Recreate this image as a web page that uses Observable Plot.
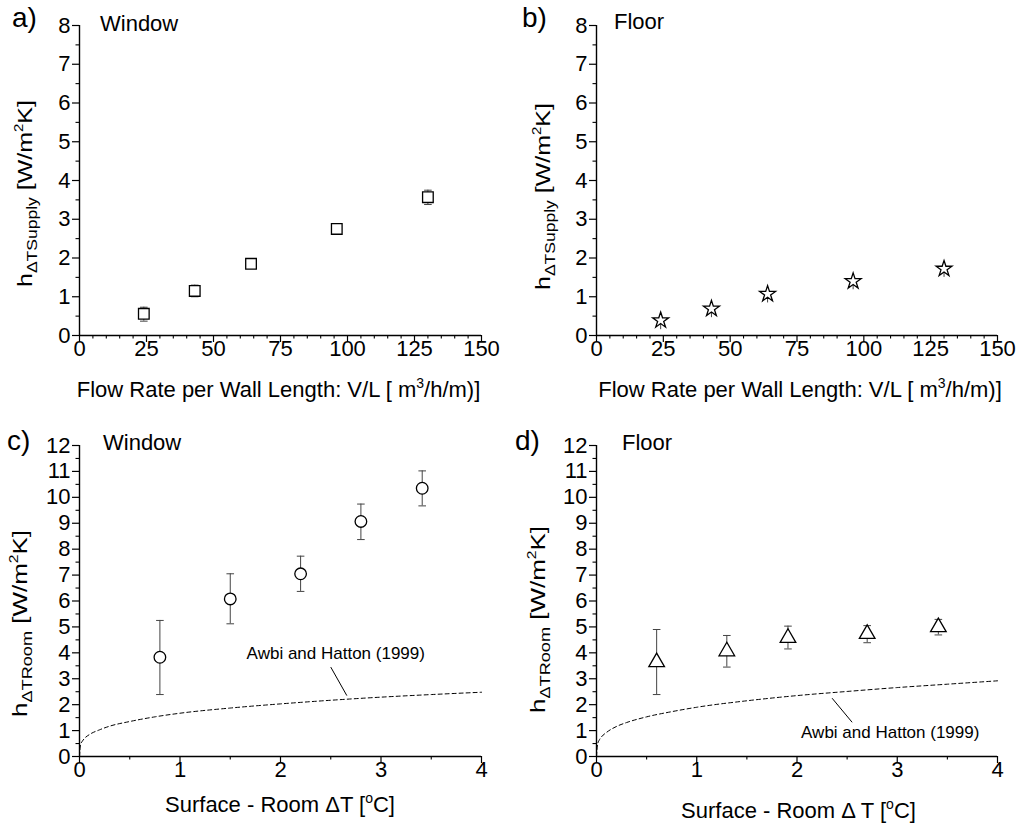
<!DOCTYPE html>
<html>
<head>
<meta charset="utf-8">
<script src="https://cdn.jsdelivr.net/npm/d3@7"></script>
<script src="https://cdn.jsdelivr.net/npm/@observablehq/plot@0.6"></script>
<style>
  html, body { margin: 0; padding: 0; background: white; }
  #wrap { position: relative; width: 1019px; height: 830px; overflow: hidden; background: white; }
  .pane { position: absolute; }
</style>
</head>
<body>
<div id="wrap">
  <div class="pane" id="pa" style="left:0px;top:0px"></div>
  <div class="pane" id="pb" style="left:510px;top:0px"></div>
  <div class="pane" id="pc" style="left:0px;top:420px"></div>
  <div class="pane" id="pd" style="left:510px;top:420px"></div>
</div>
<script>
// ---------- data ----------
// a) Window, supply-based coefficient vs flow rate
const windowFlow = [24, 43, 64, 96, 130];
const windowSupplyH = [0.56, 1.15, 1.85, 2.75, 3.57];
const windowSupplyLo = [0.37, 1.0, 1.75, 2.61, 3.38];
const windowSupplyHi = [0.73, 1.3, 1.95, 2.88, 3.75];

// b) Floor, supply-based coefficient vs flow rate
const floorFlow = [24, 43, 64, 96, 130];
const floorSupplyH = [0.39, 0.69, 1.07, 1.40, 1.72];
const floorSupplyLo = [0.15, 0.46, 0.84, 1.18, 1.50];
const floorSupplyHi = [0.55, 0.85, 1.23, 1.56, 1.88];

// c) Window, room-based coefficient vs surface-room dT
const windowDT = [0.8, 1.5, 2.2, 2.8, 3.41];
const windowRoomH = [3.83, 6.08, 7.05, 9.07, 10.35];
const windowRoomLo = [2.39, 5.12, 6.37, 8.37, 9.67];
const windowRoomHi = [5.25, 7.05, 7.73, 9.74, 11.02];

// d) Floor, room-based coefficient vs surface-room dT
const floorDT = [0.6, 1.3, 1.91, 2.7, 3.41];
const floorRoomH = [3.64, 4.06, 4.58, 4.73, 4.99];
const floorRoomLo = [2.39, 3.45, 4.15, 4.39, 4.69];
const floorRoomHi = [4.9, 4.67, 5.03, 5.05, 5.29];

// Awbi and Hatton (1999) dashed curves
const awbiDT = [0, 0.01, 0.03, 0.05, 0.1, 0.2, 0.3, 0.5, 0.75, 1, 1.5, 2, 2.5, 3, 3.5, 4];
const awbiWindowH = [0, 0.45, 0.6, 0.7, 0.85, 1.03, 1.17, 1.35, 1.53, 1.67, 1.87, 2.03, 2.17, 2.29, 2.39, 2.48];
const awbiFloorH = [0, 0.46, 0.65, 0.76, 0.93, 1.16, 1.31, 1.53, 1.73, 1.9, 2.15, 2.35, 2.51, 2.66, 2.79, 2.92];

// annotation label + leader (data coordinates)
const awbiText = "Awbi and Hatton (1999)";
const awbiLabelC = [2.55, 3.98];
const awbiLeaderC = [[2.50, 3.45], [2.66, 2.35]];
const awbiLabelD = [2.93, 0.94];
const awbiLeaderD = [[2.35, 2.25], [2.55, 1.32]];

// tick values
const flowTicks = [0, 25, 50, 75, 100, 125, 150];
const flowMinor = d3.range(0, 151, 5).filter(v => v % 25 !== 0);
const supplyTicks = d3.range(0, 9, 1);
const supplyMinor = d3.range(0.5, 8, 1);
const dtTicks = [0, 1, 2, 3, 4];
const dtMinor = [0.5, 1.5, 2.5, 3.5];
const roomTicks = d3.range(0, 13, 1);
const roomMinor = d3.range(0.5, 12, 1);

// ---------- helpers ----------
const FONT = '"Liberation Sans", Arial, Helvetica, sans-serif';
const zip = (xs, ys, los, his) => xs.map((x, i) => ({x, y: ys[i], lo: los ? los[i] : null, hi: his ? his[i] : null}));
const capSymbol = { draw(ctx, size) { const w = Math.sqrt(size / Math.PI); ctx.moveTo(-w, 0); ctx.lineTo(w, 0); } };

function axes(o) {
  return [
    Plot.axisX(o.xMajor, {tickSize: 7, tickPadding: -2, label: null, stroke: "black", strokeWidth: 1.2}),
    Plot.axisX(o.xMinor, {tickSize: 3.5, tickFormat: () => "", label: null, stroke: "black", strokeWidth: 1.1}),
    Plot.axisY(o.yMajor, {tickSize: 7, tickPadding: 2, label: null, stroke: "black", strokeWidth: 1.2}),
    Plot.axisY(o.yMinor, {tickSize: 3.5, tickFormat: () => "", label: null, stroke: "black", strokeWidth: 1.1}),
    Plot.ruleY([o.yDomain[0]], {stroke: "black", strokeWidth: 1.4}),
    Plot.ruleX([o.xDomain[0]], {stroke: "black", strokeWidth: 1.4})
  ];
}

function points(data, symbol, r, caps) {
  const m = [Plot.ruleX(data, {x: "x", y1: "lo", y2: "hi", stroke: "#444", strokeWidth: 1})];
  if (caps) {
    m.push(Plot.dot(data, {x: "x", y: "lo", symbol: capSymbol, r: 3.8, fill: "none", stroke: "#444", strokeWidth: 1}));
    m.push(Plot.dot(data, {x: "x", y: "hi", symbol: capSymbol, r: 3.8, fill: "none", stroke: "#444", strokeWidth: 1}));
  }
  m.push(Plot.dot(data, {x: "x", y: "y", symbol, r, fill: "white", stroke: "black", strokeWidth: 1.3}));
  return m;
}

function panel(o) {
  const svg = Plot.plot({
    width: o.width, height: o.height,
    marginLeft: o.ml, marginRight: o.mr, marginTop: o.mt, marginBottom: o.mb,
    x: {domain: o.xDomain}, y: {domain: o.yDomain},
    style: {fontFamily: FONT, fontSize: "22px", color: "black", background: "transparent", overflow: "visible"},
    marks: [...axes(o), ...o.marks]
  });
  svg.style.overflow = "visible";
  return svg;
}

function rich(svg, {x, y, rotate, anchor = "start", parts, textLength}) {
  const t = d3.select(svg).append("text")
    .attr("transform", `translate(${x},${y})` + (rotate ? ` rotate(${rotate})` : ""))
    .attr("text-anchor", anchor)
    .attr("font-family", FONT)
    .attr("fill", "black");
  parts.forEach(p => t.append("tspan").attr("font-size", p.size).attr("dy", p.dy || 0).text(p.t));
  if (textLength) t.attr("textLength", textLength).attr("lengthAdjust", "spacingAndGlyphs");
}

function ylabel(svg, x, y, sub) {
  rich(svg, {x, y, rotate: -90, anchor: "middle", textLength: 187, parts: [
    {t: "h", size: 20}, {t: "\u0394T" + sub, size: 14, dy: 5}, {t: " [W/m", size: 20, dy: -5},
    {t: "2", size: 12, dy: -9}, {t: "K]", size: 20, dy: 9}
  ]});
}
function flowLabel(svg, x, y) {
  rich(svg, {x, y, anchor: "middle", parts: [
    {t: "Flow Rate per Wall Length: V/L [ m", size: 22}, {t: "3", size: 14, dy: -9}, {t: "/h/m)]", size: 22, dy: 9}
  ]});
}
function dtLabel(svg, x, y, mid) {
  rich(svg, {x, y, anchor: "middle", parts: [
    {t: "Surface - Room " + mid + " [", size: 22}, {t: "o", size: 14, dy: -9}, {t: "C]", size: 22, dy: 9}
  ]});
}
function tag(svg, x, y, t, size) { rich(svg, {x, y, parts: [{t, size}]}); }

// ---------- panel a ----------
{
  const data = zip(windowFlow, windowSupplyH, windowSupplyLo, windowSupplyHi);
  const svg = panel({width: 509, height: 420, ml: 79, mr: 28, mt: 25, mb: 85,
    xDomain: [0, 150], yDomain: [0, 8], xMajor: flowTicks, xMinor: flowMinor, yMajor: supplyTicks, yMinor: supplyMinor,
    marks: points(data, "square", 6, true)});
  ylabel(svg, 31.5, 193.5, "Supply");
  flowLabel(svg, 278.5, 397);
  tag(svg, 12, 27, "a)", 28);
  tag(svg, 100, 30.5, "Window", 22);
  document.getElementById("pa").appendChild(svg);
}
// ---------- panel b ----------
{
  const data = zip(floorFlow, floorSupplyH, floorSupplyLo, floorSupplyHi);
  const svg = panel({width: 509, height: 420, ml: 86, mr: 22, mt: 25, mb: 85,
    xDomain: [0, 150], yDomain: [0, 8], xMajor: flowTicks, xMinor: flowMinor, yMajor: supplyTicks, yMinor: supplyMinor,
    marks: points(data, "star", 5, false)});
  ylabel(svg, 40, 196.5, "Supply");
  flowLabel(svg, 290, 397);
  tag(svg, 12, 27, "b)", 28);
  tag(svg, 104, 28.5, "Floor", 22);
  document.getElementById("pb").appendChild(svg);
}
// ---------- panel c ----------
{
  const data = zip(windowDT, windowRoomH, windowRoomLo, windowRoomHi);
  const curve = zip(awbiDT, awbiWindowH);
  const svg = panel({width: 509, height: 410, ml: 79, mr: 28, mt: 25, mb: 74,
    xDomain: [0, 4], yDomain: [0, 12], xMajor: dtTicks, xMinor: dtMinor, yMajor: roomTicks, yMinor: roomMinor,
    marks: [
      Plot.line(curve, {x: "x", y: "y", stroke: "black", strokeWidth: 1, strokeDasharray: "4,3", curve: "monotone-x"}),
      ...points(data, "circle", 5.8, true),
      Plot.link([awbiLeaderC], {x1: d => d[0][0], y1: d => d[0][1], x2: d => d[1][0], y2: d => d[1][1], stroke: "black", strokeWidth: 1}),
      Plot.text([awbiLabelC], {x: d => d[0], y: d => d[1], text: () => awbiText, fontSize: 17, fill: "black"})
    ]});
  ylabel(svg, 27, 203.5, "Room");
  dtLabel(svg, 280, 392, "\u0394T");
  tag(svg, 7, 30, "c)", 28);
  tag(svg, 103, 30, "Window", 22);
  document.getElementById("pc").appendChild(svg);
}
// ---------- panel d ----------
{
  const data = zip(floorDT, floorRoomH, floorRoomLo, floorRoomHi);
  const curve = zip(awbiDT, awbiFloorH);
  const svg = panel({width: 509, height: 410, ml: 86, mr: 22, mt: 25, mb: 74,
    xDomain: [0, 4], yDomain: [0, 12], xMajor: dtTicks, xMinor: dtMinor, yMajor: roomTicks, yMinor: roomMinor,
    marks: [
      Plot.line(curve, {x: "x", y: "y", stroke: "black", strokeWidth: 1, strokeDasharray: "4,3", curve: "monotone-x"}),
      ...points(data, "triangle", 5.8, true),
      Plot.link([awbiLeaderD], {x1: d => d[0][0], y1: d => d[0][1], x2: d => d[1][0], y2: d => d[1][1], stroke: "black", strokeWidth: 1}),
      Plot.text([awbiLabelD], {x: d => d[0], y: d => d[1], text: () => awbiText, fontSize: 17, fill: "black"})
    ]});
  ylabel(svg, 35, 199.5, "Room");
  dtLabel(svg, 288.5, 398, "\u0394 T");
  tag(svg, 5, 30, "d)", 28);
  tag(svg, 112, 30, "Floor", 22);
  document.getElementById("pd").appendChild(svg);
}
</script>
</body>
</html>
